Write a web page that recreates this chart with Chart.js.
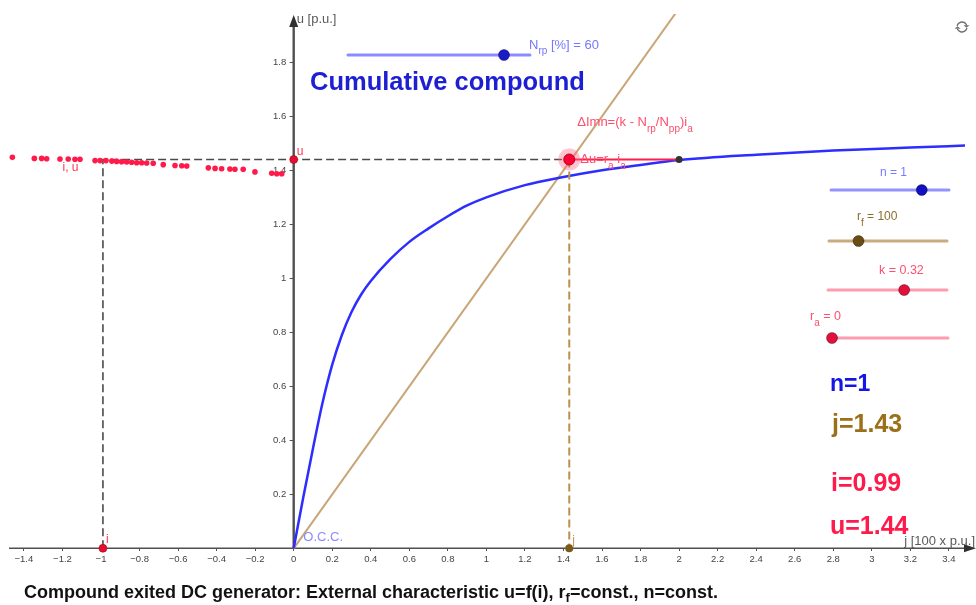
<!DOCTYPE html>
<html>
<head>
<meta charset="utf-8">
<title>Compound exited DC generator</title>
<script src="https://cdn.jsdelivr.net/npm/chart.js@4.4.1/dist/chart.umd.min.js"></script>
<style>
  html, body { margin: 0; padding: 0; background: #fff; overflow: hidden; }
  #c { display: block; }
</style>
</head>
<body>
<canvas id="c" width="976" height="605"></canvas>
<script>
// ---------- data ----------
// Open-circuit characteristic (magnetisation curve) u = f(j)
const occJ = [0, 0.05, 0.10, 0.15, 0.20, 0.25, 0.30, 0.35, 0.40, 0.50, 0.60, 0.70, 0.80, 0.90, 1.00, 1.20, 1.40, 1.60, 1.80, 2.00, 2.40, 2.80, 3.20, 3.50];
const occU = [0, 0.19, 0.37, 0.54, 0.68, 0.79, 0.875, 0.94, 0.99, 1.07, 1.135, 1.185, 1.23, 1.27, 1.30, 1.345, 1.375, 1.40, 1.42, 1.438, 1.458, 1.473, 1.484, 1.492];

// Traced external characteristic u = f(i), load current drawn on the negative axis
const extI = [-1.46, -1.346, -1.308, -1.282, -1.213, -1.17, -1.135, -1.109, -1.031, -1.005, -0.974, -0.944, -0.919, -0.893, -0.867, -0.841, -0.815, -0.789, -0.763, -0.729, -0.677, -0.616, -0.581, -0.555, -0.443, -0.408, -0.374, -0.331, -0.305, -0.262, -0.201, -0.114, -0.088, -0.062];
const extU = [1.448, 1.444, 1.444, 1.443, 1.442, 1.442, 1.441, 1.441, 1.436, 1.436, 1.436, 1.434, 1.433, 1.432, 1.431, 1.430, 1.428, 1.428, 1.427, 1.426, 1.421, 1.418, 1.417, 1.416, 1.409, 1.407, 1.406, 1.405, 1.404, 1.404, 1.394, 1.389, 1.387, 1.387];

// Slider parameters: N_rp [%], n, r_f, k, r_a
const sliderValues = [60, 1, 100, 0.32, 0];
const sliderMins   = [0, 0, 50, 0, 0];
const sliderMaxs   = [70, 1.3, 250, 0.5, 1];

// Operating point
const opI = 0.99;      // load current
const opU = 1.44;      // terminal voltage
const opJ = 1.43;      // shunt field current
const jTotal = 2.0;    // shunt + series excitation
const rf = sliderValues[2];
const fieldLineJ = [0, 2.2];

// Tick labels
const xTicks = [-1.4, -1.2, -1, -0.8, -0.6, -0.4, -0.2, 0, 0.2, 0.4, 0.6, 0.8, 1, 1.2, 1.4, 1.6, 1.8, 2, 2.2, 2.4, 2.6, 2.8, 3, 3.2, 3.4];
const yTicks = [0.2, 0.4, 0.6, 0.8, 1, 1.2, 1.4, 1.6, 1.8];

// ---------- view frame ----------
const FONT = '"Liberation Sans", Arial, Helvetica, sans-serif';
const AREA = { left: 0, right: 976, top: 14, bottom: 570 };
const ORIGIN = { x: 293.7, y: 548.3 };   // pixel position of (0, 0)
const SCALE = { x: 192.7, y: 270 };      // pixels per unit
const Y_LABEL_GAP = 7.5;                 // px between u-axis and its tick labels
const frame = ca => ({
  xMin: (ca.left - ORIGIN.x) / SCALE.x,
  xMax: (ca.right - ORIGIN.x) / SCALE.x,
  yMin: (ORIGIN.y - ca.bottom) / SCALE.y,
  yMax: (ORIGIN.y - ca.top) / SCALE.y
});
const f0 = frame(AREA);

const xy = (xs, ys) => xs.map((x, i) => ({ x, y: ys[i] }));
const fmt = v => (Math.round(v * 10) / 10).toString().replace('-', '\u2212');

// ---------- drawing helpers ----------
function richText(ctx, x, y, parts, size, color, weight) {
  // parts: strings; a leading '_' marks a subscript run
  ctx.fillStyle = color;
  ctx.textBaseline = 'middle';
  ctx.textAlign = 'left';
  let cx = x;
  for (const p of parts) {
    const sub = p.startsWith('_');
    const t = sub ? p.slice(1) : p;
    const fs = sub ? Math.round(size * 0.8) : size;
    ctx.font = (weight || 'normal') + ' ' + fs + 'px ' + FONT;
    ctx.fillText(t, cx, sub ? y + size * 0.5 : y);
    cx += ctx.measureText(t).width;
  }
  return cx - x;
}

function dot(ctx, x, y, r, fill, stroke) {
  ctx.beginPath();
  ctx.arc(x, y, r, 0, Math.PI * 2);
  ctx.fillStyle = fill;
  ctx.fill();
  if (stroke) { ctx.lineWidth = 1; ctx.strokeStyle = stroke; ctx.stroke(); }
}

const sliderStyles = [
  { x1: 348, x2: 530, y: 55,  track: 'rgba(110,110,255,0.8)', knob: '#1a1ac8', lx: 529, ly: 45,  size: 13, color: '#7676ff', label: ['N', '_rp', ' [%] = ' + sliderValues[0]] },
  { x1: 831, x2: 949, y: 190, track: 'rgba(120,120,255,0.8)', knob: '#1010c4', lx: 880, ly: 173, size: 12, color: '#7a7aff', label: ['n = ' + sliderValues[1]] },
  { x1: 829, x2: 947, y: 241, track: 'rgba(190,158,105,0.85)', knob: '#6b4c12', lx: 857, ly: 217, size: 12, color: '#8c6d2c', label: ['r', '_f', ' = ' + sliderValues[2]] },
  { x1: 828, x2: 947, y: 290, track: 'rgba(255,130,155,0.8)', knob: '#e4103c', lx: 879, ly: 271, size: 12.5, color: '#ff4f70', label: ['k = ' + sliderValues[3]] },
  { x1: 832, x2: 948, y: 338, track: 'rgba(255,130,155,0.8)', knob: '#e4103c', lx: 810, ly: 317, size: 12.5, color: '#ff4f70', label: ['r', '_a', ' = ' + sliderValues[4]] }
];

// Axis lines with arrow heads and u-axis tick marks, through the origin
const axesPlugin = {
  id: 'axesLines',
  beforeDatasetsDraw(chart) {
    const { ctx, scales: { x, y } } = chart;
    const x0 = x.getPixelForValue(0), y0 = y.getPixelForValue(0);
    ctx.save();
    ctx.strokeStyle = '#505050';
    ctx.fillStyle = '#303030';
    ctx.lineWidth = 1.6;
    ctx.beginPath(); ctx.moveTo(9, y0); ctx.lineTo(966, y0); ctx.stroke();
    ctx.beginPath(); ctx.moveTo(976, y0); ctx.lineTo(964, y0 - 4); ctx.lineTo(964, y0 + 4); ctx.closePath(); ctx.fill();
    ctx.lineWidth = 1;
    y.ticks.forEach(t => {
      const yy = Math.round(y.getPixelForValue(t.value)) + 0.5;
      ctx.beginPath(); ctx.moveTo(x0 - 4, yy); ctx.lineTo(x0, yy); ctx.stroke();
    });
    ctx.lineWidth = 2.4;
    ctx.beginPath(); ctx.moveTo(x0, y0); ctx.lineTo(x0, 24); ctx.stroke();
    ctx.beginPath(); ctx.moveTo(x0, 15); ctx.lineTo(x0 - 4.5, 27); ctx.lineTo(x0 + 4.5, 27); ctx.closePath(); ctx.fill();
    ctx.restore();
  }
};

// Labels, sliders and read-outs
const notesPlugin = {
  id: 'notes',
  afterDraw(chart) {
    const { ctx, scales: { x, y } } = chart;
    const px = v => x.getPixelForValue(v), py = v => y.getPixelForValue(v);
    ctx.save();

    // axis titles
    richText(ctx, px(0) + 3, 19, ['u [p.u.]'], 13, '#5a5a5a');
    ctx.font = '13px ' + FONT;
    richText(ctx, 975 - ctx.measureText('j [100 x p.u.]').width, 541, ['j [100 x p.u.]'], 13, '#5a5a5a');

    // point labels
    richText(ctx, px(0) + 3, py(opU) - 8, ['u'], 12, '#ff3355');
    richText(ctx, px(-opI) + 3, py(0) - 9, ['i'], 12, '#ff3355');
    richText(ctx, px(opJ) + 3, py(0) - 8, ['j'], 12, '#c49a55');
    richText(ctx, px(-1.2), py(1.408), ['i, u'], 12, '#ff3355');
    richText(ctx, px(0.05), py(0.04), ['O.C.C.'], 13, '#8a8aff');
    richText(ctx, px(opJ) + 8, py(opU) - 37, ['\u0394Imn=(k - N', '_rp', '/N', '_pp', ')i', '_a'], 13, '#ff4d6a');
    richText(ctx, px(opJ) + 11, py(opU), ['\u0394u=r', '_a', ' i', '_a'], 13, '#ff4d6a');

    // heading
    ctx.font = 'bold 25.5px ' + FONT;
    ctx.fillStyle = '#1e1ed2';
    ctx.textBaseline = 'alphabetic';
    ctx.textAlign = 'left';
    ctx.fillText('Cumulative compound', 310, 90);

    // sliders
    sliderStyles.forEach((s, i) => {
      ctx.strokeStyle = s.track;
      ctx.lineWidth = 3;
      ctx.lineCap = 'round';
      ctx.beginPath(); ctx.moveTo(s.x1, s.y); ctx.lineTo(s.x2, s.y); ctx.stroke();
      const kx = s.x1 + (sliderValues[i] - sliderMins[i]) / (sliderMaxs[i] - sliderMins[i]) * (s.x2 - s.x1);
      dot(ctx, kx, s.y, 5.5, s.knob, 'rgba(0,0,0,0.35)');
      richText(ctx, s.lx, s.ly, s.label, s.size, s.color);
    });

    // read-outs
    ctx.textBaseline = 'alphabetic';
    ctx.font = 'bold 23px ' + FONT;
    ctx.fillStyle = '#1515e6';
    ctx.fillText('n=' + sliderValues[1], 830, 391);
    ctx.font = 'bold 25px ' + FONT;
    ctx.fillStyle = '#9c7018';
    ctx.fillText('j=' + opJ.toFixed(2), 832, 432);
    ctx.fillStyle = '#ff1a4c';
    ctx.fillText('i=' + opI.toFixed(2), 831, 491);
    ctx.fillText('u=' + opU.toFixed(2), 830, 534);

    // caption
    const cap1 = 'Compound exited DC generator: External characteristic u=f(i), r';
    ctx.font = 'bold 18px ' + FONT;
    ctx.fillStyle = '#111';
    ctx.fillText(cap1, 24, 598);
    let w = ctx.measureText(cap1).width;
    ctx.font = 'bold 13px ' + FONT;
    ctx.fillText('f', 24 + w, 602);
    w += ctx.measureText('f').width;
    ctx.font = 'bold 18px ' + FONT;
    ctx.fillText('=const., n=const.', 24 + w, 598);

    // refresh icon
    ctx.strokeStyle = '#707070';
    ctx.fillStyle = '#707070';
    ctx.lineWidth = 1.4;
    const cx = 962, cy = 27, r = 5;
    ctx.beginPath(); ctx.arc(cx, cy, r, Math.PI * 1.1, Math.PI * 1.85); ctx.stroke();
    ctx.beginPath(); ctx.arc(cx, cy, r, Math.PI * 0.1, Math.PI * 0.85); ctx.stroke();
    const tip = (a, dir) => {
      const ex = cx + r * Math.cos(a), ey = cy + r * Math.sin(a);
      ctx.beginPath();
      ctx.moveTo(ex + 3, ey + dir * 0.5);
      ctx.lineTo(ex - 3, ey + dir * 0.5);
      ctx.lineTo(ex, ey + dir * 3);
      ctx.closePath(); ctx.fill();
    };
    tip(Math.PI * 1.85, 1);
    tip(Math.PI * 0.85, -1);
    ctx.restore();
  }
};

// ---------- chart ----------
const chart = new Chart(document.getElementById('c'), {
  type: 'scatter',
  data: {
    datasets: [
      { // selected operating point on the field-resistance line
        data: [{ x: opJ, y: opU }], order: 0,
        pointRadius: 5.5, backgroundColor: '#ff0033', borderColor: '#b8001f', borderWidth: 1
      },
      { // selection halo
        data: [{ x: opJ, y: opU }], order: 1,
        pointRadius: 11, backgroundColor: 'rgba(255,100,125,0.38)', borderWidth: 0
      },
      { // end of the series excitation, on the O.C.C.
        data: [{ x: jTotal, y: opU }], order: 0,
        pointRadius: 3.5, backgroundColor: '#333', borderWidth: 0
      },
      { // u and i on the axes
        data: [{ x: 0, y: opU }, { x: -opI, y: 0 }], order: 0,
        pointRadius: 4, backgroundColor: '#e0102e', borderColor: '#a0001a', borderWidth: 0.5
      },
      { // j on the axis
        data: [{ x: opJ, y: 0 }], order: 0,
        pointRadius: 4, backgroundColor: '#7a5a18', borderWidth: 0
      },
      { // series excitation Δ
        data: [{ x: opJ, y: opU }, { x: jTotal, y: opU }], order: 2, showLine: true,
        borderColor: '#ff1f4f', borderWidth: 2, pointRadius: 0
      },
      { // external characteristic trace
        data: xy(extI, extU), order: 2, clip: false,
        pointRadius: 2.8, backgroundColor: '#ff1a4a', borderWidth: 0
      },
      { // projection of the operating point
        data: [{ x: -opI, y: 0 }, { x: -opI, y: opU }, { x: opJ, y: opU }], order: 3, showLine: true,
        borderColor: '#4a4a4a', borderWidth: 1.6, borderDash: [8, 4], pointRadius: 0
      },
      { // projection of j
        data: [{ x: opJ, y: opU }, { x: opJ, y: 0 }], order: 3, showLine: true,
        borderColor: '#bb9150', borderWidth: 2, borderDash: [8, 4], pointRadius: 0
      },
      { // O.C.C.
        data: xy(occJ, occU), order: 4, showLine: true,
        borderColor: '#2d2dff', borderWidth: 2.5, pointRadius: 0, cubicInterpolationMode: 'monotone'
      },
      { // field resistance line u = rf/100 * j
        data: xy(fieldLineJ, fieldLineJ.map(j => j * rf / 100)), order: 5, showLine: true,
        borderColor: '#c8a676', borderWidth: 2, pointRadius: 0
      }
    ]
  },
  options: {
    responsive: false,
    animation: false,
    events: [],
    layout: { padding: { top: AREA.top, bottom: 605 - AREA.bottom, left: 0, right: 0 } },
    plugins: { legend: { display: false }, tooltip: { enabled: false } },
    scales: {
      x: {
        type: 'linear', min: f0.xMin, max: f0.xMax, position: { y: 0 },
        afterBuildTicks: s => { s.ticks = xTicks.map(v => ({ value: v })); },
        border: { display: false },
        grid: { display: true, drawOnChartArea: false, drawTicks: true, tickLength: 3, color: '#555' },
        ticks: { padding: 2, color: '#444', font: { family: FONT, size: 9.5 }, maxRotation: 0, autoSkip: false, includeBounds: false, callback: v => fmt(v) }
      },
      y: {
        type: 'linear', min: f0.yMin, max: f0.yMax, position: { x: -Y_LABEL_GAP / SCALE.x },
        afterBuildTicks: s => { s.ticks = yTicks.map(v => ({ value: v })); },
        border: { display: false },
        grid: { display: false },
        ticks: { padding: 0, color: '#444', font: { family: FONT, size: 9.5 }, autoSkip: false, includeBounds: false, callback: v => fmt(v) }
      }
    }
  },
  plugins: [axesPlugin, notesPlugin]
});

// Re-derive the axis ranges from the laid-out plot area so that the origin
// and unit lengths land where the view frame puts them.
for (let pass = 0; pass < 3; pass++) {
  const f = frame(chart.chartArea);
  Object.assign(chart.options.scales.x, { min: f.xMin, max: f.xMax });
  Object.assign(chart.options.scales.y, { min: f.yMin, max: f.yMax });
  chart.update('none');
}
</script>
</body>
</html>
